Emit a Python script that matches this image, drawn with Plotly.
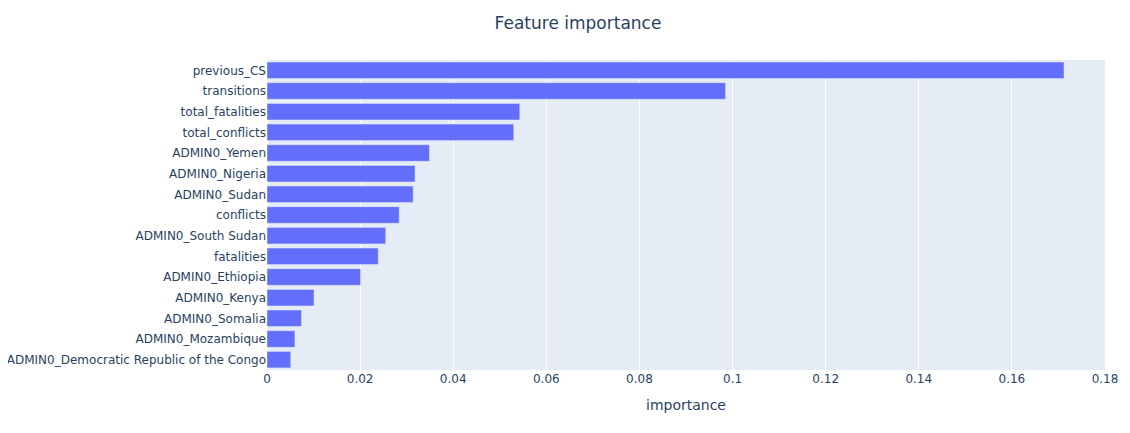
import plotly.graph_objects as go

features = [
    "ADMIN0_Democratic Republic of the Congo",
    "ADMIN0_Mozambique",
    "ADMIN0_Somalia",
    "ADMIN0_Kenya",
    "ADMIN0_Ethiopia",
    "fatalities",
    "ADMIN0_South Sudan",
    "conflicts",
    "ADMIN0_Sudan",
    "ADMIN0_Nigeria",
    "ADMIN0_Yemen",
    "total_conflicts",
    "total_fatalities",
    "transitions",
    "previous_CS",
]
importance = [
    0.0051, 0.0060, 0.0074, 0.0101, 0.0201, 0.0239, 0.0255, 0.0284,
    0.0314, 0.0318, 0.0349, 0.0530, 0.0543, 0.0985, 0.1712,
]
x_ticks = [0, 0.02, 0.04, 0.06, 0.08, 0.1, 0.12, 0.14, 0.16, 0.18]

W, H = 1122, 425
fig = go.Figure(go.Bar(x=importance, y=features, orientation="h", marker_color="#636efa"))
fig.update_layout(
    template="plotly",
    width=W,
    height=H,
    font=dict(family="Verdana, DejaVu Sans, sans-serif"),
    title=dict(text="Feature importance", x=(578 - 8) / W, xanchor="center",
               y=1 - (23 - 8) / H, yanchor="middle", yref="container"),
    margin=dict(l=259, r=23, t=52, b=63),
    xaxis=dict(title=dict(text="importance"), range=[0, 0.18], tickvals=x_ticks,
               ticktext=[str(v) for v in x_ticks]),
    yaxis=dict(automargin=False),
)
fig.write_html("out.html")
